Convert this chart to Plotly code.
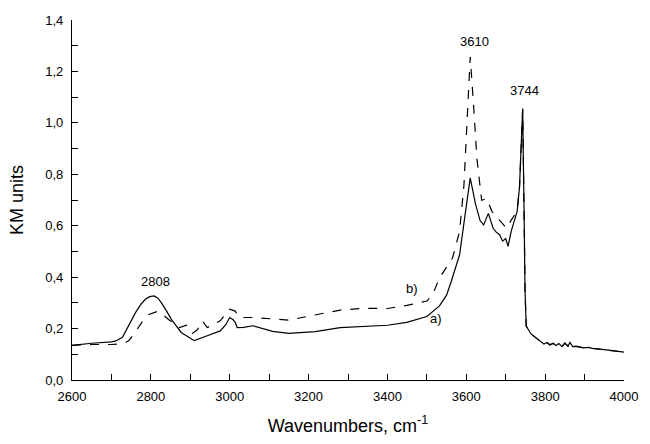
import plotly.graph_objects as go

# Spectrum a) (solid)
wn_a = [2600, 2650, 2700, 2711, 2728, 2744, 2761, 2775, 2786, 2797, 2808, 2818, 2827, 2840, 2852,
        2877, 2910, 2943, 2976, 2990,
        3000, 3008, 3014, 3019, 3035, 3059, 3109, 3150, 3217, 3280, 3324, 3366, 3400, 3449, 3500,
        3532, 3550, 3562, 3583, 3598, 3610, 3623, 3635, 3644, 3656, 3668, 3676, 3685, 3692, 3700,
        3706, 3714, 3729, 3735, 3743, 3747, 3749, 3752, 3764, 3780, 3797, 3805, 3812, 3820, 3828,
        3835, 3843, 3850, 3858, 3863, 3870, 3880, 3897, 3910, 3920, 3950, 4000]
km_a = [0.135, 0.143, 0.148, 0.152, 0.166, 0.211, 0.262, 0.295, 0.314, 0.324, 0.327, 0.318, 0.300, 0.268, 0.236,
        0.185, 0.153, 0.172, 0.191, 0.215,
        0.243, 0.235, 0.224, 0.204, 0.205, 0.211, 0.189, 0.181, 0.188, 0.204, 0.207, 0.211, 0.213, 0.224, 0.247,
        0.288, 0.330, 0.384, 0.487, 0.654, 0.786, 0.687, 0.620, 0.603, 0.648, 0.590, 0.575, 0.564, 0.540, 0.550,
        0.520, 0.579, 0.656, 0.750, 1.056, 0.600, 0.347, 0.210, 0.179, 0.160, 0.140, 0.146, 0.136, 0.143, 0.134,
        0.142, 0.130, 0.144, 0.131, 0.146, 0.130, 0.131, 0.125, 0.127, 0.123, 0.118, 0.108]

# Spectrum b) (dashed)
wn_b = [2600, 2650, 2700, 2730, 2744, 2760, 2777, 2795, 2815, 2830, 2844, 2873, 2890, 2905, 2918,
        2931, 2943, 2976, 3000,
        3014, 3025, 3059, 3150, 3217, 3280, 3341, 3400, 3449, 3500, 3515, 3532, 3565, 3583, 3594,
        3602, 3610, 3618, 3627, 3639, 3652, 3665, 3681, 3702, 3714, 3729, 3735, 3743, 3747, 3749,
        3752, 3764, 3780, 3797, 3805, 3812, 3820, 3828, 3835, 3843, 3850, 3858, 3863, 3870, 3880,
        3897, 3910, 3920, 3950, 4000]
km_b = [0.135, 0.138, 0.138, 0.142, 0.153, 0.185, 0.224, 0.255, 0.266, 0.255, 0.236, 0.204, 0.213, 0.181, 0.195,
        0.230, 0.204, 0.230, 0.275,
        0.268, 0.243, 0.243, 0.233, 0.253, 0.272, 0.279, 0.278, 0.290, 0.307, 0.333, 0.397, 0.474, 0.578, 0.757,
        1.014, 1.256, 1.079, 0.860, 0.699, 0.706, 0.656, 0.629, 0.590, 0.622, 0.657, 0.750, 1.050, 0.600, 0.347,
        0.210, 0.179, 0.160, 0.140, 0.145, 0.137, 0.142, 0.135, 0.141, 0.131, 0.143, 0.132, 0.145, 0.131, 0.131,
        0.125, 0.127, 0.123, 0.118, 0.108]

x_ticks = [2600, 2800, 3000, 3200, 3400, 3600, 3800, 4000]
x_labels = ["2600", "2800", "3000", "3200", "3400", "3600", "3800", "4000"]
y_ticks = [0.0, 0.2, 0.4, 0.6, 0.8, 1.0, 1.2, 1.4]
y_labels = ["0,0", "0,2", "0,4", "0,6", "0,8", "1,0", "1,2", "1,4"]

peak_x = [2813, 3620, 3747]
peak_y = [0.384, 1.316, 1.124]
peak_text = ["2808", "3610", "3744"]
curve_label_x = [3463, 3523]
curve_label_y = [0.355, 0.239]
curve_label_text = ["b)", "a)"]

FONT = "Liberation Sans, Arial, sans-serif"

fig = go.Figure()
fig.add_trace(go.Scatter(x=wn_b, y=km_b, mode="lines",
                         line=dict(color="black", width=1.2, dash="dash"), showlegend=False))
fig.add_trace(go.Scatter(x=wn_a, y=km_a, mode="lines",
                         line=dict(color="black", width=1.2), showlegend=False))

for x, y, t in zip(peak_x + curve_label_x, peak_y + curve_label_y, peak_text + curve_label_text):
    fig.add_annotation(x=x, y=y, text=t, showarrow=False,
                       font=dict(family=FONT, size=13, color="black"))

fig.update_layout(
    width=650, height=444,
    margin=dict(l=72, r=15, t=20, b=61),
    paper_bgcolor="white", plot_bgcolor="white",
    font=dict(family=FONT, color="black"),
)
fig.update_xaxes(
    range=[2600, 4000], tickvals=x_ticks, ticktext=x_labels,
    ticks="inside", ticklen=6, tickwidth=1, tickcolor="black",
    showline=True, linecolor="black", linewidth=1.2, showgrid=False, zeroline=False,
    tickfont=dict(size=13), ticklabelstandoff=4,
    minor=dict(dtick=100, tick0=2600, ticks="inside", ticklen=6, tickcolor="black", showgrid=False),
    title=dict(text="Wavenumbers, cm<sup>-1</sup>", font=dict(size=18), standoff=16),
)
fig.update_yaxes(
    range=[0, 1.4], tickvals=y_ticks, ticktext=y_labels,
    ticks="inside", ticklen=6, tickwidth=1, tickcolor="black",
    showline=True, linecolor="black", linewidth=1.2, showgrid=False, zeroline=False,
    tickfont=dict(size=13), ticklabelstandoff=5,
    minor=dict(dtick=0.1, tick0=0, ticks="inside", ticklen=6, tickcolor="black", showgrid=False),
    title=dict(text="KM units", font=dict(size=18), standoff=16),
)

fig.write_html("out.html",
               config={"displayModeBar": False},
               post_script="document.body.style.margin='0';document.body.style.overflow='hidden';")
